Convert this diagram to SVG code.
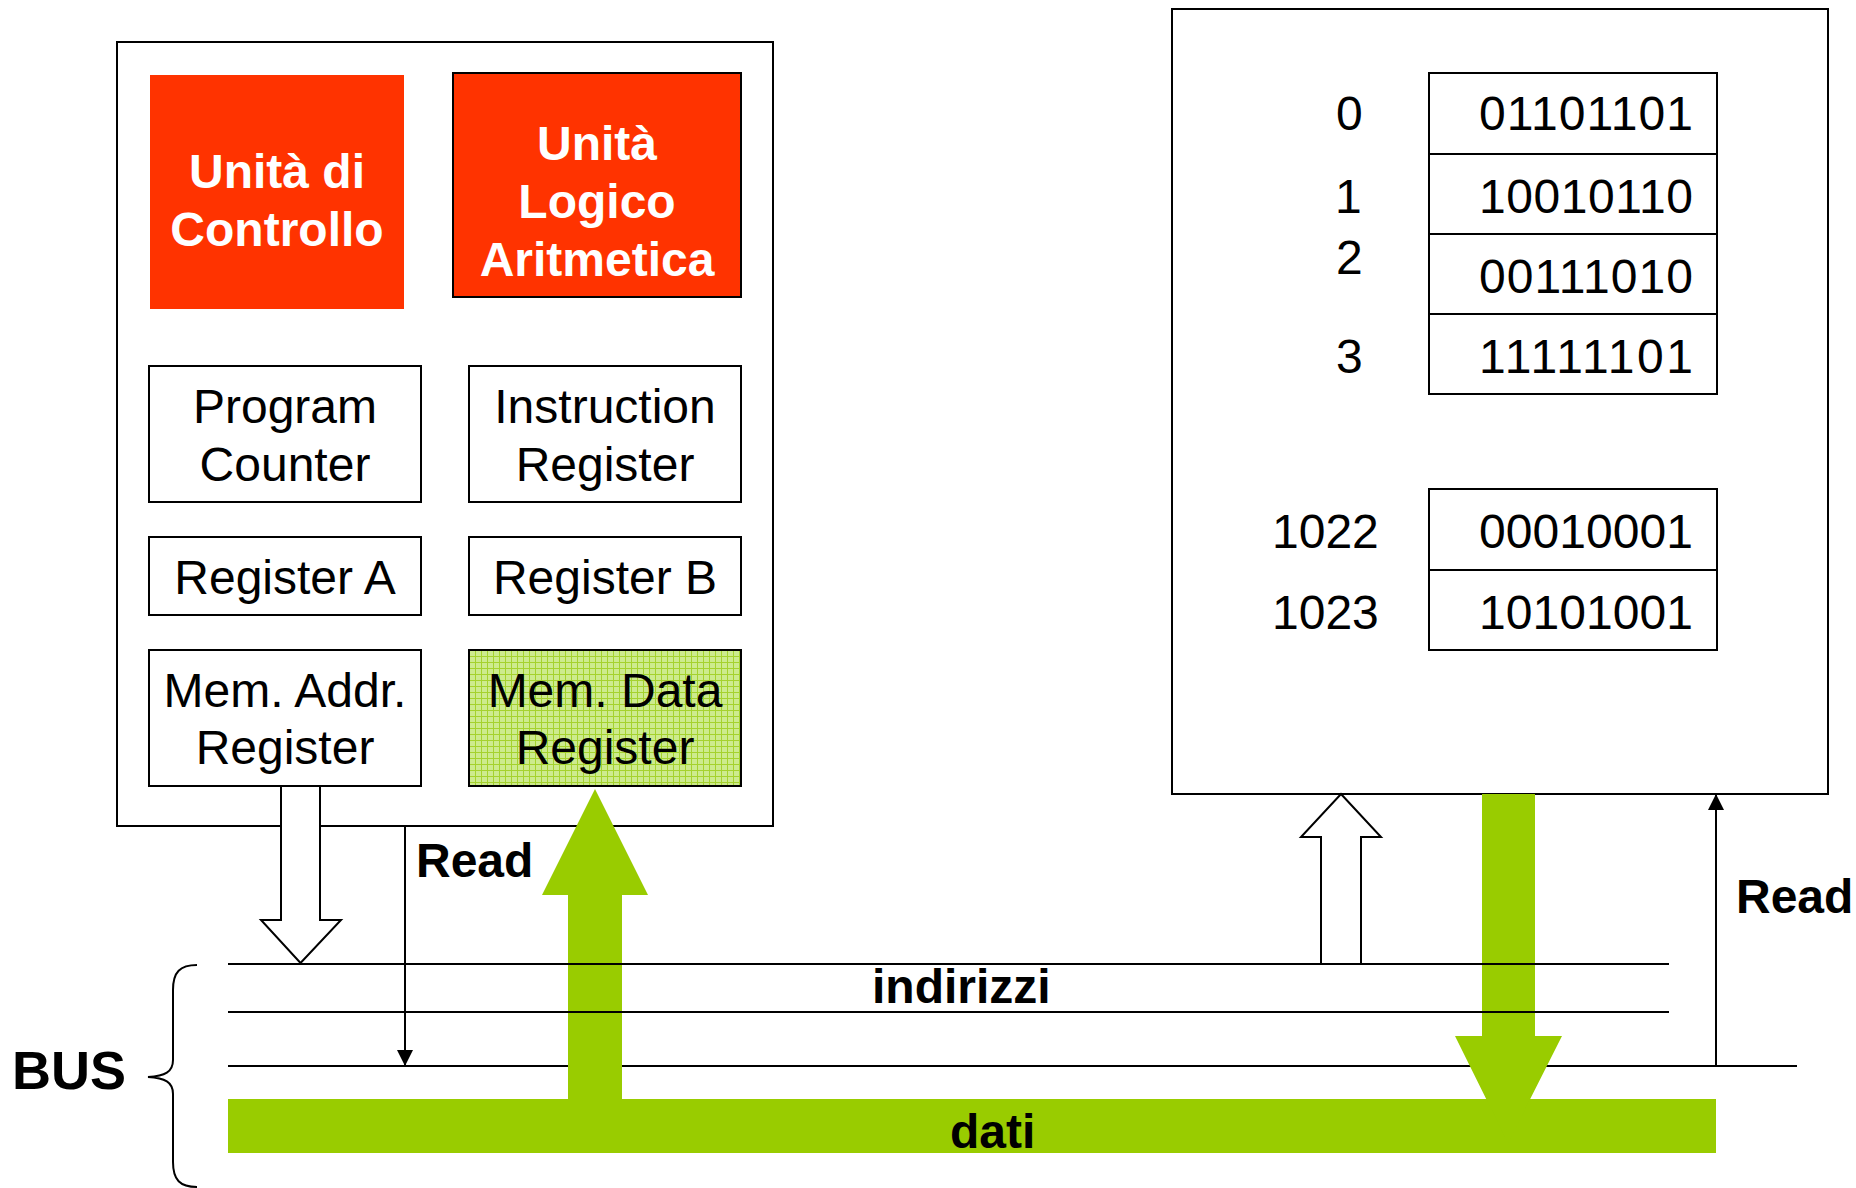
<svg xmlns="http://www.w3.org/2000/svg" width="1856" height="1188" viewBox="0 0 1856 1188">
<style>
text{font-family:"Liberation Sans",Arial,sans-serif;fill:#000}
.reg{font-size:48px;text-anchor:middle}
.unit{font-size:48px;font-weight:bold;fill:#fff;text-anchor:middle}
.lbl{font-size:48px;font-weight:bold}
.num{font-size:48px}
.box{fill:#fff;stroke:#000;stroke-width:2}
.cell{fill:none;stroke:#000;stroke-width:2}
.wire{stroke:#000;stroke-width:2;fill:none}
.green{fill:#99CC00}
.hollow{fill:#fff;stroke:#000;stroke-width:2;stroke-linejoin:miter}
</style>
<defs>
<pattern id="grid" width="6" height="6" patternUnits="userSpaceOnUse" x="469" y="650">
<rect width="6" height="6" fill="#CDEB8E"/>
<path d="M0 0.5H6M0.5 0V6" stroke="#A5D22E" stroke-width="1"/>
</pattern>
<marker id="ah" viewBox="0 0 16 16" refX="16" refY="8" markerWidth="16" markerHeight="16" markerUnits="userSpaceOnUse" orient="auto">
<path d="M0 0L16 8L0 16Z" fill="#000"/>
</marker>
</defs>

<g id="cpu">
<rect class="box" x="117" y="42" width="656" height="784"/>
</g>
<g id="unita-controllo">
<rect x="150" y="75" width="254" height="234" fill="#FF3300"/>
<text class="unit" x="277" y="188">Unità di</text>
<text class="unit" x="277" y="246">Controllo</text>
</g>
<g id="alu">
<rect x="453" y="73" width="288" height="224" fill="#FF3300" stroke="#000" stroke-width="2"/>
<text class="unit" x="597" y="160">Unità</text>
<text class="unit" x="597" y="218">Logico</text>
<text class="unit" x="597" y="276">Aritmetica</text>
</g>
<g id="program-counter">
<rect class="box" x="149" y="366" width="272" height="136"/>
<text class="reg" x="285" y="423">Program</text>
<text class="reg" x="285" y="481">Counter</text>
</g>
<g id="instruction-register">
<rect class="box" x="469" y="366" width="272" height="136"/>
<text class="reg" x="605" y="423">Instruction</text>
<text class="reg" x="605" y="481">Register</text>
</g>
<g id="register-a">
<rect class="box" x="149" y="537" width="272" height="78"/>
<text class="reg" x="285" y="594">Register A</text>
</g>
<g id="register-b">
<rect class="box" x="469" y="537" width="272" height="78"/>
<text class="reg" x="605" y="594">Register B</text>
</g>
<g id="mar">
<rect class="box" x="149" y="650" width="272" height="136"/>
<text class="reg" x="285" y="707">Mem. Addr.</text>
<text class="reg" x="285" y="764">Register</text>
</g>
<g id="mdr">
<rect x="469" y="650" width="272" height="136" fill="url(#grid)" stroke="#000" stroke-width="2"/>
<text class="reg" x="605" y="707">Mem. Data</text>
<text class="reg" x="605" y="764">Register</text>
</g>

<g id="memory">
<rect class="box" x="1172" y="9" width="656" height="785"/>
<rect class="cell" x="1429" y="73" width="288" height="321"/>
<path class="wire" d="M1429 154H1717M1429 234H1717M1429 314H1717"/>
<rect class="cell" x="1429" y="489" width="288" height="161"/>
<path class="wire" d="M1429 570H1717"/>
<text class="num" x="1336" y="130">0</text>
<text class="num" x="1335" y="213">1</text>
<text class="num" x="1336" y="274">2</text>
<text class="num" x="1336" y="373">3</text>
<text class="num" x="1272" y="548">1022</text>
<text class="num" x="1272" y="629">1023</text>
<text class="num" x="1479" y="130" textLength="214">01101101</text>
<text class="num" x="1479" y="213" textLength="214">10010110</text>
<text class="num" x="1479" y="293" textLength="214">00111010</text>
<text class="num" x="1479" y="373" textLength="214">11111101</text>
<text class="num" x="1479" y="548" textLength="214">00010001</text>
<text class="num" x="1479" y="629" textLength="214">10101001</text>
</g>

<g id="connectors">
<rect class="green" x="228" y="1099" width="1488" height="54"/>
<path class="wire" d="M228 1066H1797"/>
<polygon class="green" points="595,789 648,895 622,895 622,1100 568,1100 568,895 542,895"/>
<polygon class="green" points="1482,794 1535,794 1535,1036 1562,1036 1508,1143 1455,1036 1482,1036"/>
<path class="wire" d="M228 964H1669M228 1012H1669"/>
<polygon class="hollow" points="281,786 281,920 261,920 300.5,963 341,920 320,920 320,786"/>
<polygon class="hollow" points="1341,794 1381,837 1361,837 1361,964 1321,964 1321,837 1301,837"/>
<path class="wire" d="M405 826V1066" marker-end="url(#ah)"/>
<path class="wire" d="M1716 1066V794" marker-end="url(#ah)"/>
<path class="wire" d="M197 965C180 965 173 972 173 990V1060C173 1072 165 1076 148 1077C165 1078 173 1082 173 1094V1162C173 1180 180 1187 197 1187"/>
<text class="lbl" x="416" y="877">Read</text>
<text class="lbl" x="1736" y="913">Read</text>
<text class="lbl" x="872" y="1003">indirizzi</text>
<text class="lbl" x="950" y="1148">dati</text>
<text class="lbl" x="12" y="1089" style="font-size:54px">BUS</text>
</g>
</svg>
